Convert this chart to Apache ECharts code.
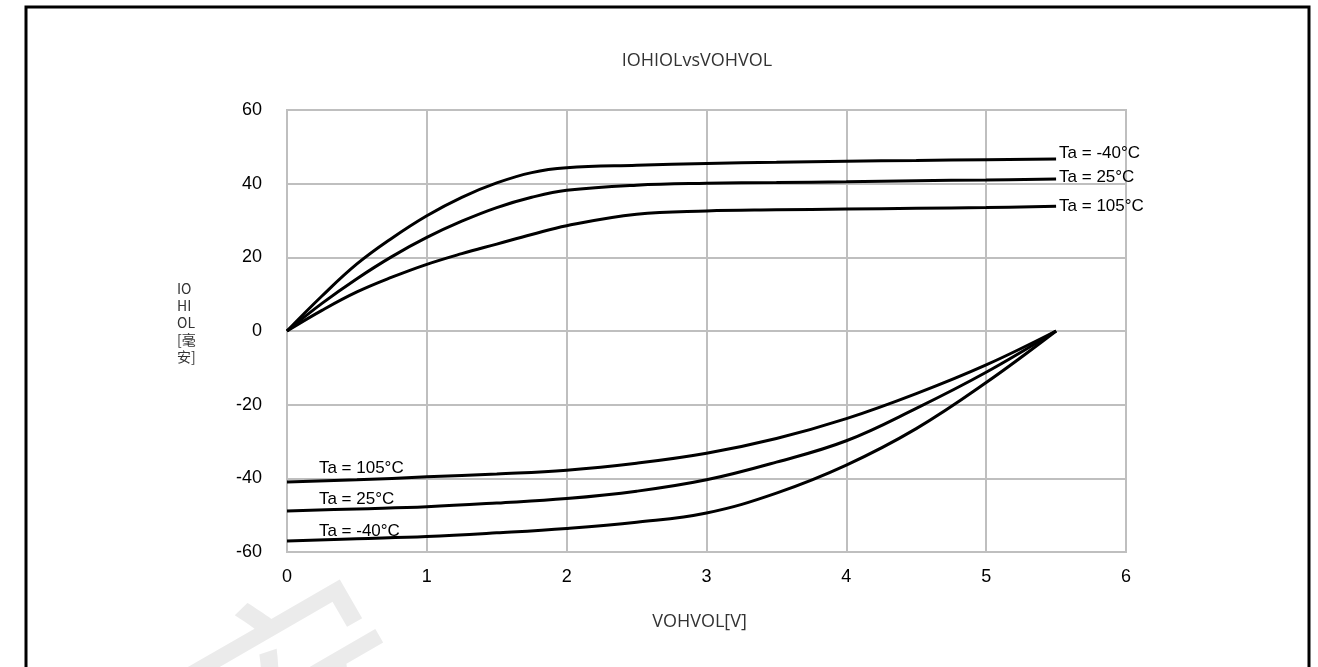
<!DOCTYPE html>
<html><head><meta charset="utf-8">
<script src="https://cdn.jsdelivr.net/npm/echarts@6/dist/echarts.min.js"></script>
<style>html,body{margin:0;padding:0;background:#fff}#c{width:1318px;height:667px}</style>
</head><body><div id="c"></div>
<script>
// Output high current (IOH) curves
const xHigh = [0, 0.25, 0.5, 0.75, 1, 1.25, 1.5, 1.75, 2, 2.5, 3, 3.5, 4, 4.5, 5, 5.5];
const iohM40 = [0, 9.5, 18.2, 25.2, 31.3, 36.3, 40.2, 43.0, 44.3, 45.0, 45.5, 45.8, 46.1, 46.3, 46.5, 46.7];
const ioh25 = [0, 7.5, 14.2, 20.2, 25.4, 29.8, 33.5, 36.3, 38.2, 39.6, 40.1, 40.3, 40.5, 40.8, 41.0, 41.3];
const ioh105 = [0, 5.6, 10.6, 14.6, 18.1, 21.0, 23.6, 26.2, 28.6, 31.7, 32.6, 32.9, 33.1, 33.3, 33.5, 33.9];
// Output low current (IOL) curves
const xLow = [0, 0.5, 1, 1.5, 2, 2.5, 3, 3.5, 4, 4.5, 5, 5.5];
const iol105 = [-41.0, -40.4, -39.6, -38.8, -37.8, -35.9, -33.2, -29.2, -23.8, -17.0, -9.2, 0];
const iol25 = [-48.9, -48.3, -47.7, -46.7, -45.5, -43.5, -40.4, -35.6, -29.8, -21.0, -11.2, 0];
const iolM40 = [-57.0, -56.4, -55.8, -54.8, -53.6, -51.9, -49.4, -44.0, -36.4, -26.5, -14.0, 0];
const labels = ['Ta = -40°C', 'Ta = 25°C', 'Ta = 105°C'];
const titleText = 'IOHIOLvsVOHVOL';
const xName = 'VOHVOL[V]';
const yName = 'IO\nHI\nOL\n[毫\n安]';

const pairs = (xs, ys) => xs.map((x, i) => [x, ys[i]]);
const lineStyle = { color: '#000', width: 3 };
const tickFont = { fontFamily: 'Liberation Sans', fontSize: 18, color: '#000' };

function highSeries(ys, label, dy) {
  return {
    type: 'line', data: pairs(xHigh, ys), smooth: 0.4, showSymbol: false,
    lineStyle, silent: true,
    endLabel: { show: true, formatter: label, distance: 3, offset: [0, dy],
      fontFamily: 'Liberation Sans', fontSize: 17, color: '#000' }
  };
}
function lowSeries(ys, label, dist) {
  return { type: 'line', data: pairs(xLow, ys), smooth: 0.4, showSymbol: false,
    lineStyle, silent: true,
    markPoint: {
      symbol: 'circle', symbolSize: 1, itemStyle: { color: 'rgba(0,0,0,0)' }, silent: true,
      data: [{ coord: [xLow[1], ys[1]],
        label: { show: true, formatter: label, position: 'top', align: 'left', distance: dist, offset: [-38, 4],
          fontFamily: 'Liberation Sans', fontSize: 17, color: '#000' } }]
    }
  };
}

const chart = echarts.init(document.getElementById('c'), null, { renderer: 'canvas' });
chart.setOption({
  animation: false,
  backgroundColor: '#fff',
  title: { text: titleText, left: 692, top: 47, textAlign: 'center',
    textStyle: { fontFamily: 'Open Sans', fontSize: 18, fontWeight: 'normal', color: '#333' } },
  grid: { left: 287, right: 192, top: 110, bottom: 115, show: true, borderColor: '#bfbfbf', borderWidth: 2 },
  xAxis: {
    type: 'value', min: 0, max: 6, interval: 1,
    name: xName, nameLocation: 'middle', nameGap: 61,
    nameTextStyle: { fontFamily: 'Open Sans', fontSize: 18, color: '#333', padding: [0, 14, 0, 0] },
    axisLine: { show: false }, axisTick: { show: false },
    axisLabel: Object.assign({ margin: 16 }, tickFont),
    splitLine: { show: true, lineStyle: { color: '#bfbfbf', width: 2 } }
  },
  yAxis: {
    type: 'value', min: -60, max: 60, interval: 20,
    axisLine: { show: false }, axisTick: { show: false },
    axisLabel: Object.assign({ margin: 25 }, tickFont),
    splitLine: { show: true, lineStyle: { color: '#bfbfbf', width: 2 } }
  },
  graphic: [
    { type: 'rect', shape: { x: 26, y: 7, width: 1283, height: 700 },
      style: { fill: 'none', stroke: '#000', lineWidth: 3 }, silent: true },
    { type: 'text', x: 300, y: 690, rotation: Math.PI / 6, z: -1, silent: true,
      style: { text: '安', fontSize: 220, fontFamily: 'Noto Sans CJK SC', fill: '#ebebeb',
        textAlign: 'center', textVerticalAlign: 'middle' } },
    { type: 'text', x: 177, y: 323, silent: true,
      style: { text: yName, fontSize: 14, lineHeight: 17, fontFamily: 'Noto Sans CJK SC', fill: '#333',
        textAlign: 'left', textVerticalAlign: 'middle' } }
  ],
  series: [
    highSeries(iohM40, labels[0], -6),
    highSeries(ioh25, labels[1], -2),
    highSeries(ioh105, labels[2], 0),
    lowSeries(iol105, labels[2], 6),
    lowSeries(iol25, labels[1], 5),
    lowSeries(iolM40, labels[0], 2)
  ]
});
</script></body></html>
